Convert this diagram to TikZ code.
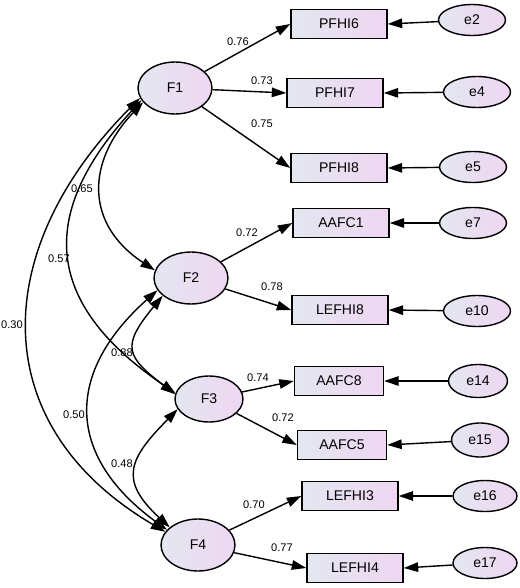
\documentclass[tikz,border=0pt]{standalone}
\usepackage{fontspec}
\setmainfont{Liberation Sans}
\usepackage{xcolor}
\usepackage{tikz}
\usetikzlibrary{arrows.meta,shapes.geometric}

\definecolor{fillL}{HTML}{E3E7F0}
\definecolor{fillR}{HTML}{EFD6F2}

\begin{document}
\begin{tikzpicture}[
    x=0.02cm,
    y=-0.02cm,
    font=\fontsize{8}{9}\selectfont,
    >={Triangle[length=2.9mm,width=1.9mm]},
    lat/.style={ellipse,draw=black,line width=0.8pt,
                left color=fillL,right color=fillR,
                minimum width=1.48cm,minimum height=1.04cm,inner sep=0pt},
    obs/.style={rectangle,draw=black,line width=0.8pt,
                left color=fillL,right color=fillR,
                minimum width=1.92cm,minimum height=0.58cm,inner sep=0pt},
    err/.style={ellipse,draw=black,line width=0.8pt,
                left color=fillL,right color=fillR,
                minimum width=1.34cm,minimum height=0.62cm,inner sep=0pt},
    load/.style={->,draw=black,line width=0.8pt},
    cov/.style={<->,draw=black,line width=0.8pt},
    coef/.style={font=\fontsize{6.3}{7}\selectfont,inner sep=0pt}
]

\useasboundingbox (0,0) rectangle (520,588);

% latent factors
\node[lat] (F1) at (175,88) {F1};
\node[lat] (F2) at (191,278) {F2};
\node[lat,minimum width=1.36cm,minimum height=0.92cm] (F3) at (209,399) {F3};
\node[lat] (F4) at (198,545) {F4};

% indicators
\node[obs] (PFHI6) at (339,24) {PFHI6};
\node[obs] (PFHI7) at (335,93) {PFHI7};
\node[obs] (PFHI8) at (339,168) {PFHI8};
\node[obs] (AAFC1) at (341,223) {AAFC1};
\node[obs] (LEFHI8) at (340,310) {LEFHI8};
\node[obs,minimum width=1.78cm] (AAFC8) at (339,381) {AAFC8};
\node[obs,minimum width=1.78cm] (AAFC5) at (342,445) {AAFC5};
\node[obs] (LEFHI3) at (350,496) {LEFHI3};
\node[obs] (LEFHI4) at (355,568) {LEFHI4};

% error terms
\node[err] (e2) at (472,20) {e2};
\node[err] (e4) at (477,92) {e4};
\node[err] (e5) at (473,167) {e5};
\node[err] (e7) at (473,223) {e7};
\node[err] (e10) at (477,311) {e10};
\node[err,minimum width=1.18cm,minimum height=0.66cm] (e14) at (478,381) {e14};
\node[err,minimum width=1.14cm,minimum height=0.68cm] (e15) at (480,440) {e15};
\node[err,minimum width=1.28cm] (e16) at (485,496) {e16};
\node[err,minimum width=1.28cm] (e17) at (485,563) {e17};

% loadings
\draw[load] (F1) -- (PFHI6.west);
\draw[load] (F1) -- (PFHI7.west);
\draw[load] (F1) -- (PFHI8.west);
\draw[load] (F2) -- (AAFC1.west);
\draw[load] (F2) -- (LEFHI8.west);
\draw[load] (F3) -- (AAFC8.west);
\draw[load] (F3) -- (AAFC5.west);
\draw[load] (F4) -- (LEFHI3.west);
\draw[load] (F4) -- (LEFHI4.west);

\draw[load] (e2) -- (PFHI6.east);
\draw[load] (e4) -- (PFHI7.east);
\draw[load] (e5) -- (PFHI8.east);
\draw[load] (e7) -- (AAFC1.east);
\draw[load] (e10) -- (LEFHI8.east);
\draw[load] (e14) -- (AAFC8.east);
\draw[load] (e15) -- (AAFC5.east);
\draw[load] (e16) -- (LEFHI3.east);
\draw[load] (e17) -- (LEFHI4.east);

% covariances
\draw[cov] (F1.204) .. controls +(-57,60) and +(-70,-46) .. (F2.168);
\draw[cov] (F1.200) .. controls +(-110,120) and +(-125,-85) .. (F3.170);
\draw[cov] (F1.196) .. controls +(-150,150) and +(-182,-107) .. (F4.158);
\draw[cov] (F2.212) .. controls +(-42,51) and +(-49,-38) .. (F3.172);
\draw[cov] (F2.200) .. controls +(-93,83) and +(-101,-74) .. (F4.154);
\draw[cov] (F3.198) .. controls +(-48,49) and +(-52,-48) .. (F4.148);

% coefficients
\node[coef] (c76) at (238,42) {0.76};
\node[coef] (c73) at (262,81) {0.73};
\node[coef] (c75) at (262,124) {0.75};
\node[coef] (c72a) at (247,233) {0.72};
\node[coef] (c78) at (272,287) {0.78};
\node[coef] (c74) at (258,378) {0.74};
\node[coef] (c72b) at (283,418) {0.72};
\node[coef] (c70) at (254,505) {0.70};
\node[coef] (c77) at (282,548) {0.77};

\node[coef] (r65) at (82,189) {0.65};
\node[coef] (r57) at (59,259) {0.57};
\node[coef] (r30) at (12,325) {0.30};
\node[coef] (r88) at (122,353) {0.88};
\node[coef] (r50) at (74,415) {0.50};
\node[coef] (r48) at (122,464) {0.48};

\end{tikzpicture}
\end{document}
